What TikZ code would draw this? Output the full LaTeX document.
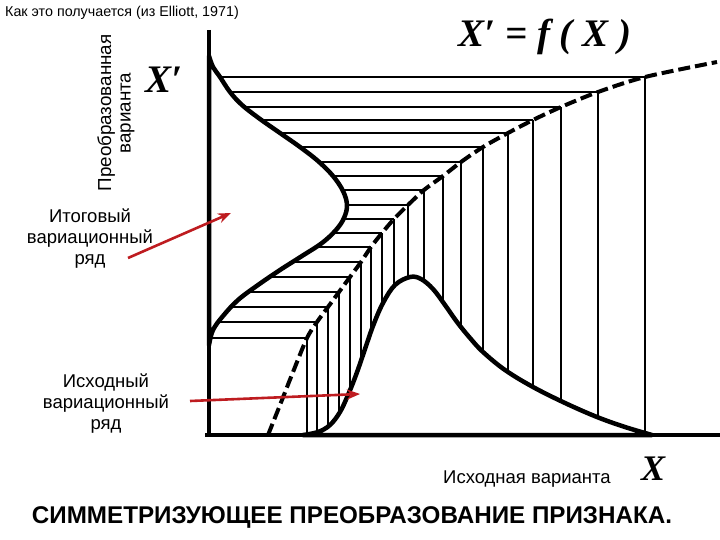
\documentclass[tikz,border=0pt]{standalone}
\usepackage{fontspec}
\setmainfont{Liberation Sans}
\newfontfamily\serifX{Liberation Serif}
\usetikzlibrary{arrows.meta}
\definecolor{arrred}{RGB}{190,28,32}
\begin{document}
\begin{tikzpicture}[x=1pt,y=-1pt,
  hatch/.style={line width=2.6pt},
  curve/.style={line width=4.5pt, line join=round},
  axisline/.style={line width=4.6pt},
  fdash/.style={line width=4pt, dash pattern=on 12pt off 5pt},
  redarrow/.style={draw=arrred, line width=2.6pt, -{Stealth[length=13pt,width=10pt]}},
  bigX/.style={font=\serifX\bfseries\itshape\fontsize{39}{41}\selectfont, inner sep=0pt},
  lbl/.style={font=\fontsize{18.5}{21}\selectfont, align=center, inner sep=0pt}]
\useasboundingbox (0,0) rectangle (720,540);
% hatching: horizontals from X' axis, verticals down to X axis
\foreach \px/\py in {645/77, 598/92, 561/107, 533/120, 508/133, 483/147, 461/162, 443/176, 424/190, 408/205, 394/219, 382/233, 371/247, 361/262, 350/277, 339/292, 328/307, 317/322, 307/338}{
  \draw[hatch] (209,\py) -- (\px,\py);
  \draw[hatch] (\px,\py) -- (\px,435);
}
% final distribution (along X')
\filldraw[curve, fill=white] plot[smooth, tension=0.6] coordinates {(209,56) (213,67) (220,77) (230,92) (242,105) (260,119) (280,133) (300,147) (318,161) (333,176) (343,191) (347,205) (344,218) (336,230) (322,243) (302,256) (280,270) (258,285) (238,300) (223,316) (213,330) (209,345)} -- cycle;
% original distribution (along X)
\filldraw[curve, fill=white] plot[smooth, tension=0.6] coordinates {(303,435) (318,432) (330,425) (340,412) (348,395) (356,375) (364,352) (373,326) (383,303) (395,285) (410,277) (421,279) (433,289) (445,305) (457,322) (470,338) (483,352) (505,370) (533,387) (565,403) (597,417) (625,427) (652,435)} -- cycle;
% transformation curve X' = f(X)
\draw[fdash] plot[smooth, tension=0.5] coordinates {(268,435) (280,405) (293,372) (307,338) (317,322) (328,307) (339,292) (350,277) (361,262) (371,247) (382,233) (394,219) (408,205) (424,190) (443,176) (461,162) (483,147) (508,133) (533,120) (561,107) (598,92) (645,77) (717,62)};
% axes
\draw[axisline] (209,30) -- (209,437);
\draw[axisline] (205,435) -- (720,435);
% texts
\node[anchor=base west, inner sep=0pt, font=\fontsize{14.3}{16}\selectfont] (cap) at (5,17) {Как это получается (из Elliott, 1971)};
\node[rotate=90, align=center, inner sep=0pt, font=\fontsize{18.8}{19.5}\selectfont] (ylab) at (116,113) {Преобразованная\\варианта};
\node[bigX] (xp) at (164,80) {X′};
\node[bigX] (fx) at (545,37) {X′ = f ( X )};
\node[bigX, font=\serifX\bfseries\itshape\fontsize{36}{38}\selectfont] (xx) at (653,469) {X};
\node[anchor=base west, inner sep=0pt, font=\fontsize{18.5}{20}\selectfont] (xlab) at (443,483) {Исходная варианта};
\node[anchor=base, inner sep=0pt, font=\bfseries\fontsize{24.2}{27}\selectfont] (title) at (352,523) {СИММЕТРИЗУЮЩЕЕ ПРЕОБРАЗОВАНИЕ ПРИЗНАКА.};
\node[lbl] (itog) at (90,239) {Итоговый\\вариационный\\ряд};
\node[lbl] (ishod) at (106,404) {Исходный\\вариационный\\ряд};
% red arrows
\coordinate (itS) at (128,258);
\coordinate (itT) at (231,213);
\coordinate (isS) at (190,401);
\coordinate (isT) at (360,394);
\draw[redarrow] (itS) -- (itT);
\draw[redarrow] (isS) -- (isT);
\end{tikzpicture}
\end{document}
